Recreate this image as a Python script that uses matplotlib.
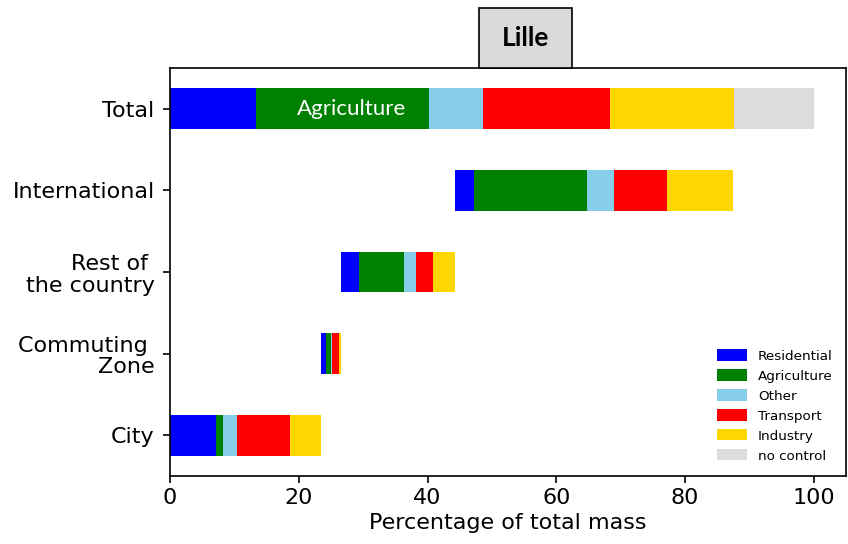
import numpy as np
import matplotlib
matplotlib.use('Agg')
import matplotlib.pyplot as plt
from matplotlib.patches import Rectangle

# rows from bottom to top
rows = ['City', 'Commuting \nZone', 'Rest of \nthe country', 'International', 'Total']
sectors = ['Residential', 'Agriculture', 'Other', 'Transport', 'Industry', 'no control']
colors = ['#0000ff', '#008000', '#87ceeb', '#ff0000', '#ffd700', '#dcdcdc']

# starting offset of each bar (waterfall)
starts = [0.0, 23.4, 26.6, 44.2, 0.0]

residential = [7.1, 0.8, 2.7, 3.0, 13.3]
agriculture = [1.2, 0.8, 7.1, 17.6, 26.9]
other = [2.1, 0.2, 1.8, 4.1, 8.4]
transport = [8.2, 1.1, 2.6, 8.3, 19.8]
industry = [4.8, 0.3, 3.4, 10.3, 19.2]
no_control = [0.0, 0.0, 0.0, 0.0, 12.4]

plt.rcParams['font.family'] = ['DejaVu Sans']

fig = plt.figure(figsize=(8.48, 5.44), dpi=100)
ax = fig.add_axes([170/848, 68/544, 676/848, 408/544])

series = [residential, agriculture, other, transport, industry, no_control]
y = np.arange(len(rows))
left = np.array(starts)
for name, vals, c in zip(sectors, series, colors):
    ax.barh(y, vals, left=left, height=0.5, color=c, label=name)
    left = left + np.array(vals)

# label on the total bar
agri_left = starts[4] + residential[4]
ax.text(agri_left + agriculture[4] / 2 + 1.5, 4, 'Agriculture', color='white',
        ha='center', va='center', fontsize=16, family='Lato')

ax.set_xlim(0, 105)
ax.set_ylim(-0.5, 4.5)
ax.set_yticks(y)
ax.set_yticklabels(rows, fontsize=16, linespacing=1.1)
ax.set_xticks([0, 20, 40, 60, 80, 100])
ax.tick_params(axis='x', labelsize=16, length=5, width=1.2, pad=4)
ax.tick_params(axis='y', length=5, width=1.2, pad=6)
ax.set_xlabel('Percentage of total mass', fontsize=16, labelpad=3)

for s in ax.spines.values():
    s.set_linewidth(1.2)

leg = ax.legend(loc='lower right', frameon=False, prop={'size': 9.7},
                handlelength=2.2, handleheight=0.9, labelspacing=0.5,
                borderaxespad=0.6)

# title box
fig.patches.append(Rectangle((479/848, 476/544), 93/848, 60/544, transform=fig.transFigure,
                             facecolor='#d9d9d9', edgecolor='black', linewidth=1.2))
fig.text(525.5/848, 1 - 38/544, 'Lille', ha='center', va='center',
         fontsize=19, fontweight='bold', family='Lato')

plt.savefig('out.png', dpi=100)
